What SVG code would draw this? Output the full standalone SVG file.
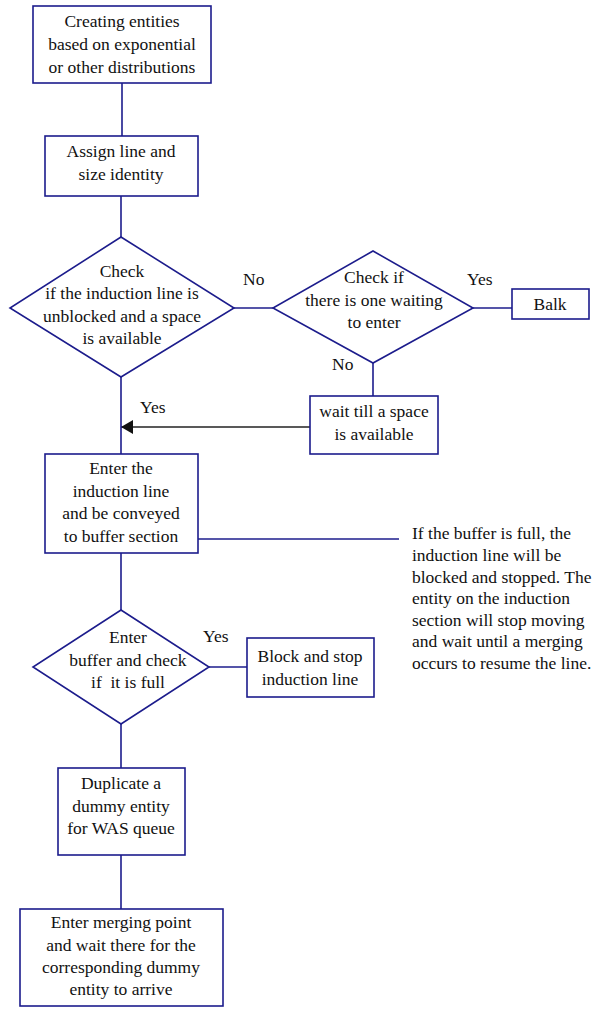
<svg xmlns="http://www.w3.org/2000/svg" width="593" height="1010" viewBox="0 0 593 1010">
<style>
.n{fill:#fff;stroke:#1c1c8c;stroke-width:1.6}
.c{fill:none;stroke:#1c1c8c;stroke-width:1.6}
.t{font-family:"Liberation Serif","Times New Roman",serif;font-size:17.5px;fill:#111;text-anchor:middle}
.l{font-family:"Liberation Serif","Times New Roman",serif;font-size:17.5px;fill:#111}
</style>
<defs>
<marker id="ah" markerWidth="12" markerHeight="14" refX="12" refY="7" orient="auto" markerUnits="userSpaceOnUse">
<path d="M0,0 L12,7 L0,14 Z" fill="#111"/>
</marker>
</defs>
<rect width="593" height="1010" fill="#fff"/>
<g id="connectors">
<line class="c" x1="122" y1="83" x2="122" y2="136"/>
<line class="c" x1="121" y1="196" x2="121" y2="237"/>
<line class="c" x1="234" y1="308" x2="273" y2="308"/>
<line class="c" x1="473" y1="308" x2="512" y2="308"/>
<line class="c" x1="373" y1="363" x2="373" y2="396"/>
<line x1="310" y1="427" x2="121" y2="427" stroke="#222" stroke-width="1.5" marker-end="url(#ah)"/>
<line class="c" x1="121" y1="377" x2="121" y2="454"/>
<line class="c" x1="198" y1="539" x2="399" y2="539"/>
<line class="c" x1="121" y1="553" x2="121" y2="610"/>
<line class="c" x1="209" y1="667" x2="247" y2="667"/>
<line class="c" x1="121" y1="724" x2="121" y2="768"/>
<line class="c" x1="121" y1="855" x2="121" y2="909"/>
<text class="l" x="243" y="285">No</text>
<text class="l" x="467" y="285">Yes</text>
<text class="l" x="332" y="370">No</text>
<text class="l" x="140" y="413">Yes</text>
<text class="l" x="203" y="642">Yes</text>
</g>
<g id="create">
<rect class="n" x="33" y="6" width="178" height="77"/>
<text class="t" x="122" y="27">Creating entities</text>
<text class="t" x="122" y="50">based on exponential</text>
<text class="t" x="122" y="73">or other distributions</text>
</g>
<g id="assign">
<rect class="n" x="45" y="136" width="153" height="60"/>
<text class="t" x="121" y="157">Assign line and</text>
<text class="t" x="121" y="180">size identity</text>
</g>
<g id="check1">
<polygon class="n" points="121,237 234,308 121,377 10,308"/>
<text class="t" x="122" y="277">Check</text>
<text class="t" x="122" y="299">if the induction line is</text>
<text class="t" x="122" y="322">unblocked and a space</text>
<text class="t" x="122" y="344">is available</text>
</g>
<g id="check2">
<polygon class="n" points="373,251 473,308 373,363 273,308"/>
<text class="t" x="374" y="283">Check if</text>
<text class="t" x="374" y="306">there is one waiting</text>
<text class="t" x="374" y="328">to enter</text>
</g>
<g id="balk">
<rect class="n" x="512" y="289" width="77" height="30"/>
<text class="t" x="550" y="310">Balk</text>
</g>
<g id="wait">
<rect class="n" x="310" y="396" width="128" height="58"/>
<text class="t" x="374" y="417">wait till a space</text>
<text class="t" x="374" y="440">is available</text>
</g>
<g id="enter">
<rect class="n" x="45" y="454" width="153" height="99"/>
<text class="t" x="121" y="474">Enter the</text>
<text class="t" x="121" y="497">induction line</text>
<text class="t" x="121" y="519">and be conveyed</text>
<text class="t" x="121" y="542">to buffer section</text>
</g>
<g id="note">
<text class="l" x="412" y="539">If the buffer is full, the</text>
<text class="l" x="412" y="561">induction line will be</text>
<text class="l" x="412" y="583">blocked and stopped. The</text>
<text class="l" x="412" y="604">entity on the induction</text>
<text class="l" x="412" y="626">section will stop moving</text>
<text class="l" x="412" y="647">and wait until a merging</text>
<text class="l" x="412" y="669">occurs to resume the line.</text>
</g>
<g id="check3">
<polygon class="n" points="121,610 209,667 121,724 33,667"/>
<text class="t" x="128" y="643">Enter</text>
<text class="t" x="128" y="666">buffer and check</text>
<text class="t" x="128" y="688" xml:space="preserve">if  it is full</text>
</g>
<g id="block">
<rect class="n" x="247" y="638" width="127" height="59"/>
<text class="t" x="310" y="662">Block and stop</text>
<text class="t" x="310" y="685">induction line</text>
</g>
<g id="duplicate">
<rect class="n" x="58" y="768" width="127" height="87"/>
<text class="t" x="121" y="789">Duplicate a</text>
<text class="t" x="121" y="812">dummy entity</text>
<text class="t" x="121" y="834">for WAS queue</text>
</g>
<g id="merge">
<rect class="n" x="20" y="909" width="203" height="97"/>
<text class="t" x="121" y="928">Enter merging point</text>
<text class="t" x="121" y="951">and wait there for the</text>
<text class="t" x="121" y="973">corresponding dummy</text>
<text class="t" x="121" y="995">entity to arrive</text>
</g>
</svg>
